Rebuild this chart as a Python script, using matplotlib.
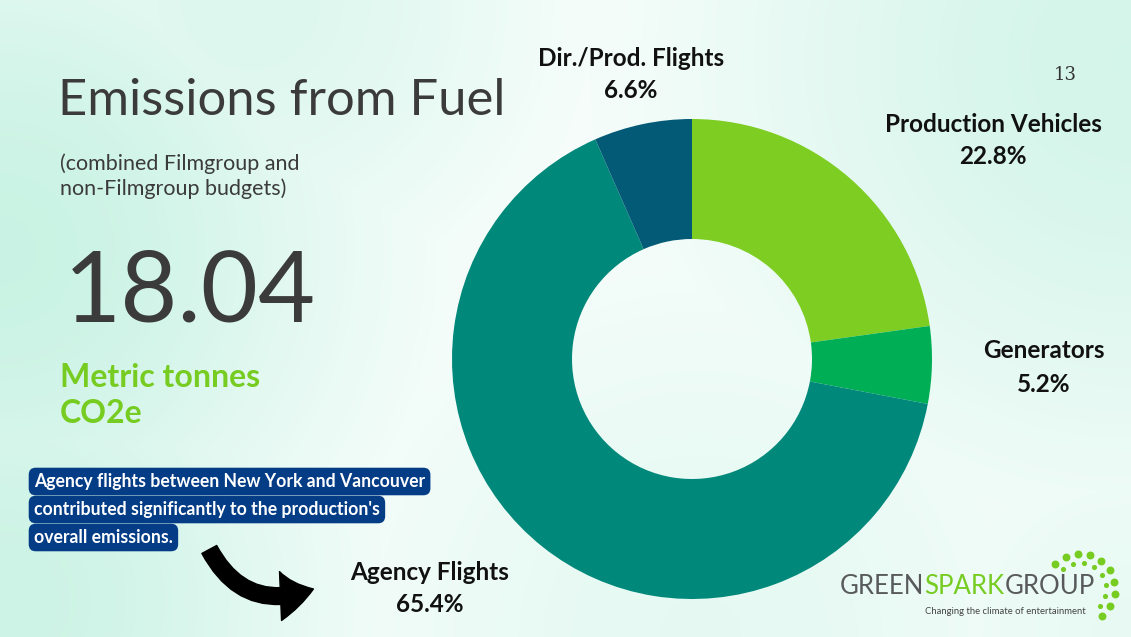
import matplotlib

matplotlib.use("Agg")

import matplotlib.pyplot as plt
import numpy as np
from matplotlib.patches import FancyArrowPatch

# chart data
categories = ["Production Vehicles", "Generators", "Agency Flights", "Dir./Prod. Flights"]
shares = [22.8, 5.2, 65.4, 6.6]
colors = ["#7dcd22", "#00ae55", "#00887a", "#035a77"]

total_value = "18.04"
unit_lines = ["Metric tonnes", "CO2e"]
callout_lines = [
    "Agency flights between New York and Vancouver",
    "contributed significantly to the production's",
    "overall emissions.",
]

W, H = 1131, 637


def px(x, y):
    return x / W, 1 - y / H


fig = plt.figure(figsize=(W / 100, H / 100), dpi=100)
renderer = fig.canvas.get_renderer()

# soft mint watercolour background
bg = fig.add_axes([0, 0, 1, 1])
yy, xx = np.mgrid[0:H, 0:W]
mint = np.array([0.78, 0.95, 0.89])
blobs = [(0, 250, 260, 0.95), (0, 600, 240, 0.9), (1131, 60, 320, 0.75),
         (250, 0, 220, 0.6), (700, 637, 300, 0.45), (1131, 637, 200, 0.4)]
strength = np.zeros((H, W))
for bx, by, s, a in blobs:
    strength = np.maximum(strength, a * np.exp(-((xx - bx) ** 2 + (yy - by) ** 2) / (2 * s ** 2)))
img = 1 - strength[..., None] * (1 - mint)
bg.imshow(img, extent=[0, W, H, 0], aspect="auto")
bg.set_xlim(0, W)
bg.set_ylim(H, 0)
bg.axis("off")

# donut
cx, cy, r = 692, 359, 240
ax = fig.add_axes([(cx - r) / W, (H - cy - r) / H, 2 * r / W, 2 * r / H])
ax.pie(shares, colors=colors, startangle=90, counterclock=False,
       wedgeprops=dict(width=0.5, linewidth=0), radius=1)
ax.set_xlim(-1, 1)
ax.set_ylim(-1, 1)
ax.set_aspect("auto")
ax.axis("off")

label_pos = {
    "Production Vehicles": (993, 124),
    "Generators": (1044, 351),
    "Agency Flights": (430, 572),
    "Dir./Prod. Flights": (631, 58),
}
for name, val in zip(categories, shares):
    x, y = label_pos[name]
    fig.text(*px(x, y), name, ha="center", va="center", fontsize=17.5,
             fontweight="bold", family="Lato", color="#111111")
    fig.text(*px(x, y + 33), f"{val:.1f}%", ha="center", va="center",
             fontsize=17.5, fontweight="bold", family="Lato", color="#111111")

# left panel text
fig.text(*px(58, 115), "Emissions from Fuel", fontsize=36.5, family="Lato",
         color="#3b3b3b", va="baseline")
fig.text(*px(60, 170), "(combined Filmgroup and", fontsize=15.5, family="Lato",
         color="#3b3b3b", va="baseline")
fig.text(*px(60, 195), "non-Filmgroup budgets)", fontsize=15.5, family="Lato",
         color="#3b3b3b", va="baseline")
fig.text(*px(64, 322), total_value, fontsize=71, family="Lato",
         color="#3b3b3b", va="baseline")
for i, line in enumerate(unit_lines):
    fig.text(*px(60, 387 + 36 * i), line, fontsize=23, family="Lato",
             fontweight="bold", color="#77cc22", va="baseline")

fig.text(*px(1065, 75), "13", fontsize=13, family="DejaVu Serif",
         color="#333333", va="center", ha="center")

# callout
for i, line in enumerate(callout_lines):
    fig.text(*px(34, 487 + 28 * i), line, fontsize=12.7, family="Lato",
             fontweight="bold", color="white", va="baseline",
             bbox=dict(boxstyle="round,pad=0.3,rounding_size=0.4",
                       facecolor="#043d86", edgecolor="none"))

arrow = FancyArrowPatch(px(208, 547), px(316, 588), transform=fig.transFigure,
                        connectionstyle="arc3,rad=0.45",
                        arrowstyle="simple,head_length=1.1,head_width=1.6,tail_width=0.55",
                        mutation_scale=22, color="black")
fig.patches.append(arrow)

# logo
x0 = 840
for word, col in [("GREEN", "#58595b"), ("SPARK", "#77cc22"), ("GROUP", "#58595b")]:
    t = fig.text(*px(x0, 594), word, fontsize=18.5, family="Lato", color=col,
                 va="baseline")
    x0 += t.get_window_extent(renderer).width
fig.text(*px(925, 614), "Changing the climate of entertainment", fontsize=6.8,
         family="Lato", color="#444444", va="baseline")
ang = np.linspace(135, -50, 10)
bg.scatter(1080 + 35 * np.cos(np.radians(ang)), 589 - 35 * np.sin(np.radians(ang)),
           s=22, color="#77cc22", zorder=5)
ang2 = np.linspace(130, -40, 8)
bg.scatter(1080 + 26 * np.cos(np.radians(ang2)), 589 - 26 * np.sin(np.radians(ang2)),
           s=7, color="#77cc22", zorder=5)

fig.savefig("out.png", dpi=100)
